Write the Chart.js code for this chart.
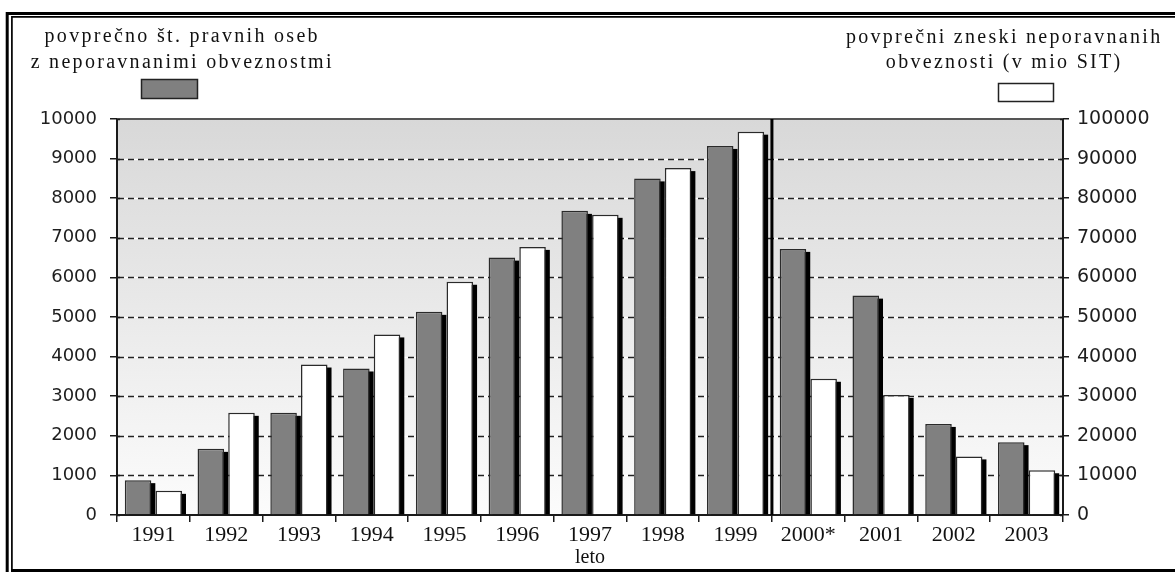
<!DOCTYPE html>
<html lang="sl">
<head>
<meta charset="utf-8">
<title>Neporavnane obveznosti pravnih oseb 1991–2003</title>
<script src="https://cdn.jsdelivr.net/npm/chart.js@4/dist/chart.umd.min.js"></script>
<style>
  html, body { margin: 0; padding: 0; background: #fff; }
  #wrap { width: 1175px; height: 572px; position: relative; }
  canvas { display: block; }
</style>
</head>
<body>
<div id="wrap"><canvas id="chart" width="1175" height="572"></canvas></div>
<script>
// Years on the category axis
const years = ['1991', '1992', '1993', '1994', '1995', '1996', '1997', '1998', '1999', '2000*', '2001', '2002', '2003'];

// Average number of legal entities with outstanding obligations (left axis)
const avgEntities = [880, 1670, 2580, 3700, 5130, 6500, 7680, 8500, 9320, 6720, 5540, 2300, 1840];

// Average amounts of outstanding obligations, million SIT (right axis)
const avgAmounts = [6100, 25800, 38000, 45600, 58900, 67700, 75800, 87600, 96800, 34400, 30300, 14800, 11300];

// Legend captions, one entry per text line
const entitiesCaption = ['povprečno št. pravnih oseb', 'z neporavnanimi obveznostmi'];
const amountsCaption = ['povprečni zneski neporavnanih', 'obveznosti (v mio SIT)'];

// Axis limits and steps
const leftMax = 10000, leftStep = 1000;
const rightMax = 100000, rightStep = 10000;

// Year where the series breaks (separator drawn before it)
const breakYear = '2000*';

const ink = '#1a1a1a';
const plainNumber = v => String(v);

// Frame, shaded plot background, dashed grid, bar shadows, separator and legend
const decorations = {
  id: 'decorations',
  beforeDraw(chart) {
    const { ctx, chartArea: a, width, height } = chart;
    ctx.save();
    ctx.fillStyle = '#ffffff';
    ctx.fillRect(0, 0, width, height);

    const g = ctx.createLinearGradient(0, a.top, 0, a.bottom);
    g.addColorStop(0, '#d8d8d8');
    g.addColorStop(1, '#fcfcfc');
    ctx.fillStyle = g;
    ctx.fillRect(a.left, a.top, a.right - a.left, a.bottom - a.top);

    // double frame
    ctx.strokeStyle = '#000';
    ctx.lineWidth = 3;
    ctx.beginPath();
    ctx.moveTo(7.2, height);
    ctx.lineTo(7.2, 13.5);
    ctx.lineTo(width, 13.5);
    ctx.stroke();
    ctx.lineWidth = 1.7;
    ctx.beginPath();
    ctx.moveTo(width, 16.8);
    ctx.lineTo(11.9, 16.8);
    ctx.lineTo(11.9, 570.6);
    ctx.stroke();
    ctx.lineWidth = 3;
    ctx.beginPath();
    ctx.moveTo(11, 570.6);
    ctx.lineTo(width, 570.6);
    ctx.stroke();
    ctx.restore();
  },
  beforeDatasetsDraw(chart) {
    const { ctx, chartArea: a, scales } = chart;
    const y = scales.y;
    ctx.save();
    // dashed grid lines
    for (let v = leftStep; v < leftMax; v += leftStep) {
      const py = Math.round(y.getPixelForValue(v)) + 0.5;
      ctx.setLineDash([]);
      ctx.strokeStyle = '#ffffff';
      ctx.lineWidth = 1.5;
      ctx.beginPath(); ctx.moveTo(a.left + 1, py); ctx.lineTo(a.right - 1, py); ctx.stroke();
      ctx.setLineDash([6, 4]);
      ctx.strokeStyle = '#222';
      ctx.lineWidth = 1.5;
      ctx.beginPath(); ctx.moveTo(a.left + 1, py); ctx.lineTo(a.right - 1, py); ctx.stroke();
    }
    ctx.setLineDash([]);
    // top edge of the plot
    ctx.strokeStyle = '#555';
    ctx.lineWidth = 2;
    ctx.beginPath(); ctx.moveTo(a.left, a.top); ctx.lineTo(a.right, a.top); ctx.stroke();

    // drop shadows of the bars
    ctx.fillStyle = '#000';
    chart.data.datasets.forEach((ds, i) => {
      chart.getDatasetMeta(i).data.forEach(bar => {
        const p = bar.getProps(['x', 'y', 'base', 'width'], true);
        const left = p.x - p.width / 2 + 4;
        const top = p.y + 3;
        if (p.base > top) ctx.fillRect(left, top, p.width, p.base - top);
      });
    });
    ctx.restore();
  },
  afterDatasetsDraw(chart) {
    const { ctx, chartArea: a, scales } = chart;
    ctx.save();
    // separator between 1999 and 2000*
    const idx = years.indexOf(breakYear);
    const sx = scales.x.getPixelForValue(idx - 0.5);
    ctx.strokeStyle = '#000';
    ctx.lineWidth = 3;
    ctx.beginPath(); ctx.moveTo(sx, a.top); ctx.lineTo(sx, a.bottom); ctx.stroke();

    // inner stubs of the value-axis ticks
    ctx.strokeStyle = ink;
    ctx.lineWidth = 1.5;
    for (let v = 0; v <= leftMax; v += leftStep) {
      const py = Math.round(scales.y.getPixelForValue(v)) + 0.5;
      ctx.beginPath(); ctx.moveTo(a.left, py); ctx.lineTo(a.left + 3, py); ctx.stroke();
      ctx.beginPath(); ctx.moveTo(a.right - 3, py); ctx.lineTo(a.right, py); ctx.stroke();
    }

    // legend captions with swatches
    ctx.fillStyle = '#111';
    ctx.font = '20px "Liberation Serif", "Times New Roman", serif';
    ctx.textAlign = 'center';
    ctx.textBaseline = 'alphabetic';
    if ('letterSpacing' in ctx) ctx.letterSpacing = '2.3px';
    const drawCaption = (lines, cx, baselines) => {
      lines.forEach((t, k) => ctx.fillText(t, cx + 1.2, baselines[k]));
    };
    drawCaption(chart.data.datasets[0].caption, 181, [42, 68]);
    drawCaption(chart.data.datasets[1].caption, 1003, [43, 68]);
    if ('letterSpacing' in ctx) ctx.letterSpacing = '0px';

    ctx.lineWidth = 1.5;
    ctx.strokeStyle = '#222';
    ctx.fillStyle = chart.data.datasets[0].backgroundColor;
    ctx.fillRect(141, 79, 57, 20);
    ctx.strokeRect(141.5, 79.5, 56, 19);
    ctx.fillStyle = chart.data.datasets[1].backgroundColor;
    ctx.fillRect(998, 83, 56, 19);
    ctx.strokeRect(998.5, 83.5, 55, 18);
    ctx.restore();
  }
};

new Chart(document.getElementById('chart'), {
  type: 'bar',
  data: {
    labels: years,
    datasets: [
      {
        label: entitiesCaption.join(' '),
        caption: entitiesCaption,
        data: avgEntities,
        yAxisID: 'y',
        backgroundColor: '#808080',
        borderColor: '#2a2a2a',
        borderWidth: 1.5,
        categoryPercentage: 0.843,
        barPercentage: 0.865
      },
      {
        label: amountsCaption.join(' '),
        caption: amountsCaption,
        data: avgAmounts,
        yAxisID: 'y1',
        backgroundColor: '#ffffff',
        borderColor: '#2a2a2a',
        borderWidth: 1.5,
        categoryPercentage: 0.843,
        barPercentage: 0.865
      }
    ]
  },
  options: {
    responsive: false,
    devicePixelRatio: 1,
    animation: false,
    events: [],
    layout: { padding: { top: 119, left: 0, right: 0, bottom: 0 } },
    plugins: {
      legend: { display: false },
      tooltip: { enabled: false }
    },
    scales: {
      x: {
        offset: true,
        grid: { offset: true, drawOnChartArea: false, drawTicks: true, tickLength: 7, color: ink, lineWidth: 1.5 },
        border: { display: true, color: ink, width: 2 },
        ticks: {
          color: '#111',
          font: { family: '"Liberation Serif", "Times New Roman", serif', size: 22 },
          padding: 0,
          maxRotation: 0,
          autoSkip: false
        },
        title: {
          display: true,
          text: 'leto',
          color: '#111',
          font: { family: '"Liberation Serif", "Times New Roman", serif', size: 20 },
          padding: { top: 0, bottom: 2 }
        },
        afterFit(scale) { scale.height = 57; }
      },
      y: {
        position: 'left',
        min: 0,
        max: leftMax,
        grid: { drawOnChartArea: false, drawTicks: true, tickLength: 7, color: ink, lineWidth: 1.5 },
        border: { display: true, color: ink, width: 2 },
        ticks: {
          stepSize: leftStep,
          callback: plainNumber,
          color: '#1e1e1e',
          font: { family: '"DejaVu Sans", Verdana, sans-serif', size: 18 },
          padding: 13
        },
        afterFit(scale) { scale.width = 117; }
      },
      y1: {
        position: 'right',
        min: 0,
        max: rightMax,
        grid: { drawOnChartArea: false, drawTicks: true, tickLength: 6, color: ink, lineWidth: 1.5 },
        border: { display: true, color: ink, width: 2 },
        ticks: {
          stepSize: rightStep,
          callback: plainNumber,
          color: '#1e1e1e',
          font: { family: '"DejaVu Sans", Verdana, sans-serif', size: 19 },
          padding: 8
        },
        afterFit(scale) { scale.width = 112; }
      }
    }
  },
  plugins: [decorations]
});
</script>
</body>
</html>
